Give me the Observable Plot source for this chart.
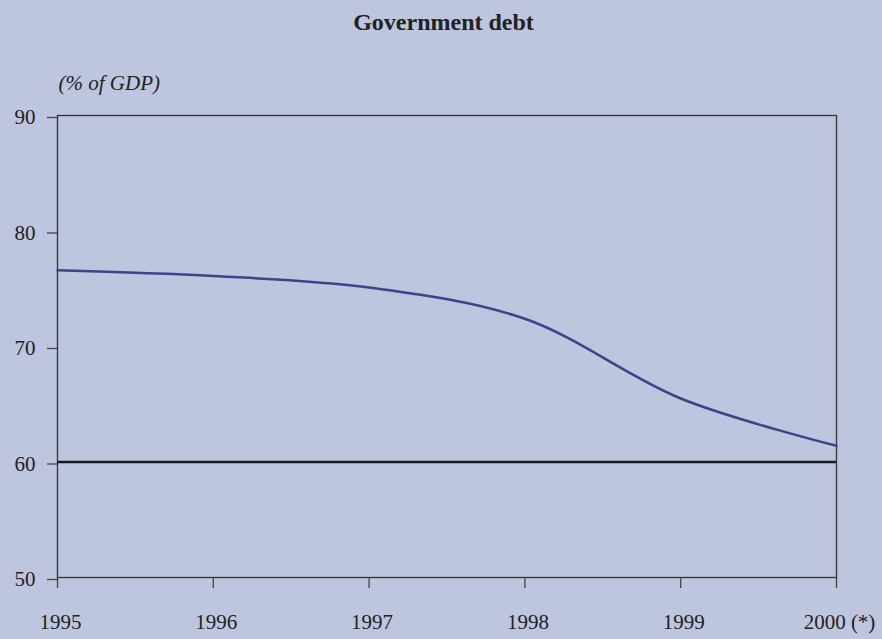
<!DOCTYPE html>
<html>
<head>
<meta charset="utf-8">
<script src="https://cdn.jsdelivr.net/npm/d3@7"></script>
<script src="https://cdn.jsdelivr.net/npm/@observablehq/plot@0.6"></script>
<style>
  html, body { margin: 0; padding: 0; background: #bec5df; }
  #chart svg { display: block; }
</style>
</head>
<body>
<div id="chart"></div>
<script>
const title = "Government debt";
const unitLabel = "(% of GDP)";
const years = [1995, 1996, 1997, 1998, 1999, 2000];
const yearLabels = ["1995", "1996", "1997", "1998", "1999", "2000 (*)"];
const debt = [76.6, 76.1, 75.1, 72.4, 65.5, 61.4];
const referenceLevel = 60;
const yTicks = [50, 60, 70, 80, 90];

const data = years.map((y, i) => ({year: y, value: debt[i]}));
const labelData = years.map((y, i) => ({year: y, label: yearLabels[i]}));

const font = "'Liberation Serif', 'Times New Roman', serif";

const chart = Plot.plot({
  width: 882,
  height: 639,
  marginLeft: 57,
  marginRight: 46,
  marginTop: 115,
  marginBottom: 62,
  style: {background: "#bec5df", fontFamily: font, fontSize: "21px", color: "#222"},
  x: {domain: [1995, 2000]},
  y: {domain: [50, 90]},
  marks: [
    Plot.frame({stroke: "#333", strokeWidth: 1.3}),
    Plot.axisY({ticks: yTicks, tickSize: 10, tickPadding: 12, label: null, tickFormat: d => String(d), fontSize: 21, stroke: "#444", strokeWidth: 1.3, dy: 2}),
    Plot.axisX({ticks: years, tickSize: 11, label: null, tickFormat: () => "", stroke: "#444", strokeWidth: 1.3}),
    Plot.text(labelData, {x: "year", text: "label", frameAnchor: "bottom", dy: 51, dx: 3, lineAnchor: "bottom", fontSize: 21, fill: "#222"}),
    Plot.ruleY([referenceLevel], {stroke: "#1a1a1a", strokeWidth: 2.7}),
    Plot.line(data, {x: "year", y: "value", curve: "catmull-rom", stroke: "#3d4387", strokeWidth: 2.5}),
    Plot.text([title], {text: d => d, frameAnchor: "top", dy: -86, dx: -3.5, lineAnchor: "bottom", fontSize: 24, fontWeight: "bold", fill: "#222"}),
    Plot.text([unitLabel], {text: d => d, frameAnchor: "top-left", dy: -26, dx: 1, textAnchor: "start", lineAnchor: "bottom", fontSize: 21, fontStyle: "italic", fill: "#222"})
  ]
});
document.getElementById("chart").appendChild(chart);
</script>
</body>
</html>
